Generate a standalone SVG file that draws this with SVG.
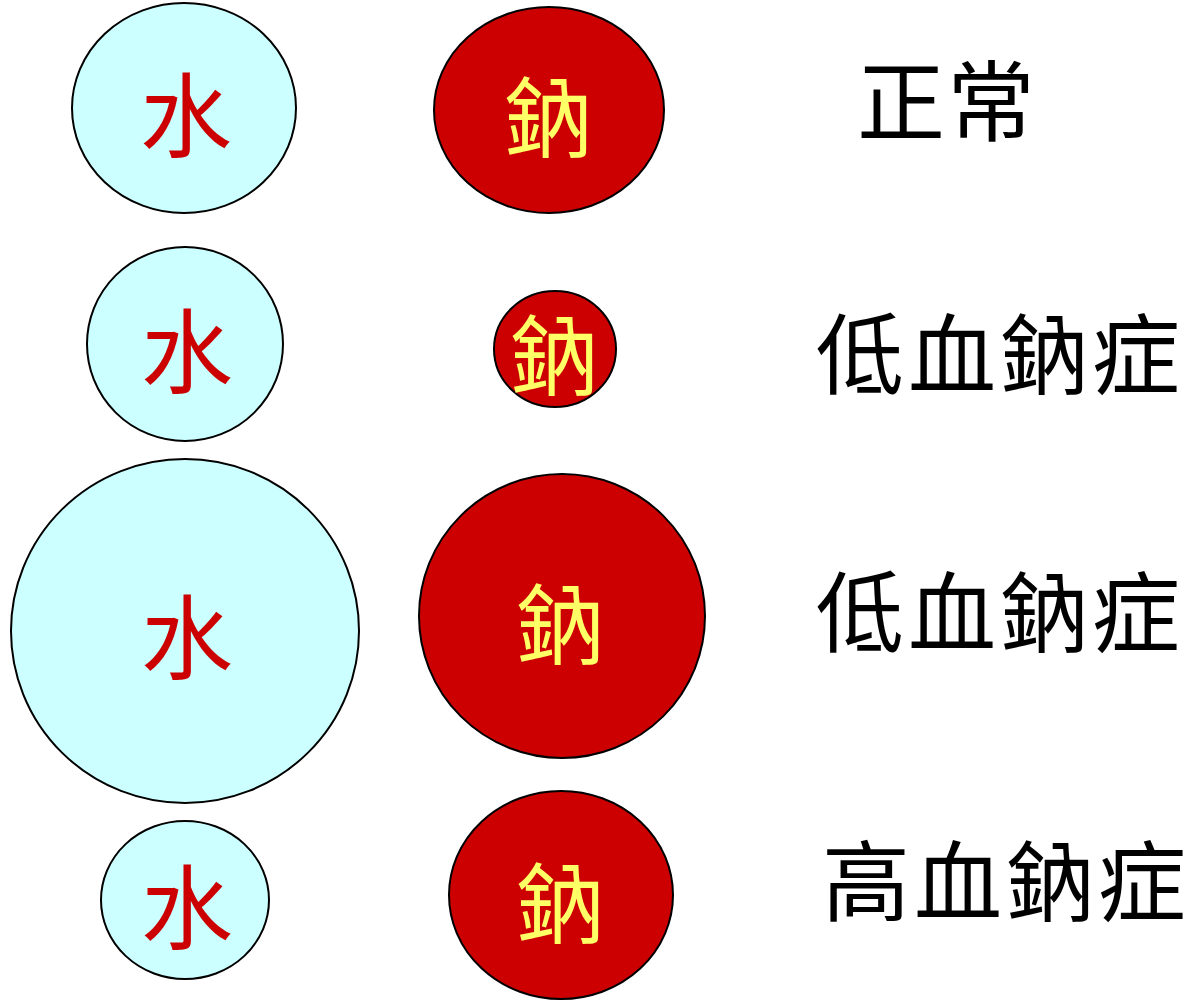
<svg xmlns="http://www.w3.org/2000/svg" width="1192" height="1000" viewBox="0 0 1192 1000">
<style>
.w{fill:#ccffff;stroke:#000;stroke-width:2}
.s{fill:#cc0000;stroke:#000;stroke-width:2}
.t{font-family:"Noto Sans CJK TC","Noto Sans CJK SC",sans-serif;text-anchor:middle}
.wt{fill:#cc0000;font-size:92px}
.st{fill:#ffff66;font-size:88px}
.lb{fill:#000;font-size:88px}
</style>
<rect width="1192" height="1000" fill="#fff"/>
<g id="water1"><ellipse class="w" cx="184" cy="108" rx="112" ry="105"/><text class="t wt" x="186" y="150">水</text></g>
<g id="sodium1"><ellipse class="s" cx="549" cy="110" rx="115" ry="103"/><text class="t st" x="548" y="150">鈉</text></g>
<g id="label1"><text class="t lb" x="947" y="134" letter-spacing="2">正常</text></g>

<g id="water2"><ellipse class="w" cx="185" cy="344" rx="98" ry="97"/><text class="t wt" x="187" y="386">水</text></g>
<g id="sodium2"><ellipse class="s" cx="555" cy="349" rx="61" ry="58"/><text class="t st" x="554" y="388">鈉</text></g>
<g id="label2"><text class="t lb" x="1000" y="387" letter-spacing="4">低血鈉症</text></g>

<g id="water3"><ellipse class="w" cx="185" cy="631" rx="174" ry="172"/><text class="t wt" x="187" y="672">水</text></g>
<g id="sodium3"><ellipse class="s" cx="562" cy="616" rx="143" ry="142"/><text class="t st" x="560" y="657">鈉</text></g>
<g id="label3"><text class="t lb" x="1000" y="645" letter-spacing="4">低血鈉症</text></g>

<g id="water4"><ellipse class="w" cx="185" cy="900" rx="84" ry="79"/><text class="t wt" x="187" y="942">水</text></g>
<g id="sodium4"><ellipse class="s" cx="561" cy="895" rx="112" ry="104"/><text class="t st" x="560" y="936">鈉</text></g>
<g id="label4"><text class="t lb" x="1006" y="914" letter-spacing="4">高血鈉症</text></g>
</svg>
